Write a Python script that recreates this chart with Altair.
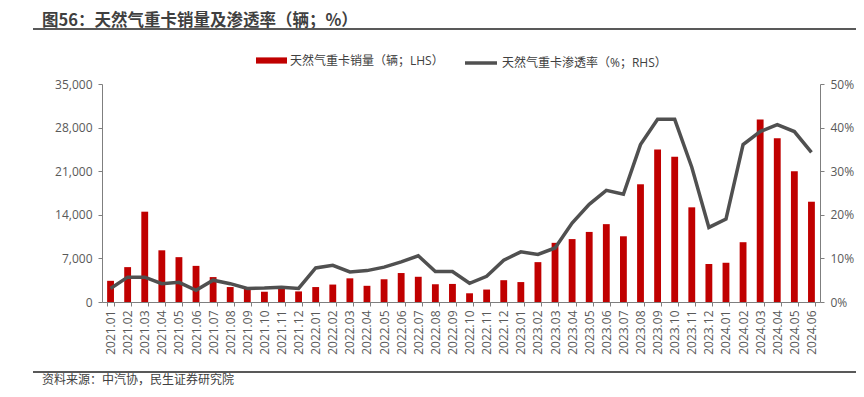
import altair as alt
import pandas as pd

months = [
    "2021.01", "2021.02", "2021.03", "2021.04", "2021.05", "2021.06", "2021.07", "2021.08", "2021.09", "2021.10", "2021.11", "2021.12",
    "2022.01", "2022.02", "2022.03", "2022.04", "2022.05", "2022.06", "2022.07", "2022.08", "2022.09", "2022.10", "2022.11", "2022.12",
    "2023.01", "2023.02", "2023.03", "2023.04", "2023.05", "2023.06", "2023.07", "2023.08", "2023.09", "2023.10", "2023.11", "2023.12",
    "2024.01", "2024.02", "2024.03", "2024.04", "2024.05", "2024.06",
]
sales = [
    3400, 5600, 14500, 8300, 7200, 5800, 4000, 2400, 2100, 1650, 2250, 1700,
    2400, 2800, 3800, 2600, 3650, 4650, 4050, 2850, 2900, 1400, 2000, 3500,
    3200, 6400, 9500, 10100, 11250, 12500, 10550, 18900, 24500, 23300, 15200, 6100,
    6300, 9600, 29300, 26300, 21000, 16100,
]
rate = [
    3.1, 5.7, 5.7, 4.2, 4.5, 2.7, 5.0, 4.2, 3.1, 3.2, 3.4, 3.1,
    7.8, 8.4, 6.9, 7.2, 8.0, 9.2, 10.6, 7.0, 7.0, 4.3, 5.9, 9.6,
    11.5, 10.9, 12.4, 18.1, 22.4, 25.6, 24.7, 36.1, 41.9, 41.9, 30.9, 17.1,
    19.0, 36.1, 39.1, 40.7, 39.1, 34.3,
]

title_text = "图56：天然气重卡销量及渗透率（辆；%）"
bar_label = "天然气重卡销量（辆；LHS）"
line_label = "天然气重卡渗透率（%；RHS）"
source_text = "资料来源：中汽协，民生证券研究院"

df = pd.DataFrame({
    "month": months,
    "sales": sales,
    "rate": [r / 100 for r in rate],
    "s1": bar_label,
    "s2": line_label,
})

FONT = "Open Sans, Noto Sans CJK SC"
AX_COLOR = "#7f7f7f"
LAB_COLOR = "#595959"

x_enc = alt.X(
    "month:N",
    sort=months,
    title=None,
    scale=alt.Scale(paddingInner=0.6, paddingOuter=0.3),
    axis=alt.Axis(
        labelAngle=270, labelFont=FONT, labelFontSize=12, labelColor=LAB_COLOR,
        domainColor=AX_COLOR, tickColor=AX_COLOR, tickSize=4, tickBand="extent",
        labelPadding=4, labelOverlap=False,
    ),
)

bars = alt.Chart(df).mark_bar(color="#C00000").encode(
    x=x_enc,
    y=alt.Y(
        "sales:Q", title=None,
        scale=alt.Scale(domain=[0, 35000], nice=False),
        axis=alt.Axis(
            orient="left", values=[0, 7000, 14000, 21000, 28000, 35000], format=",.0f",
            grid=False, labelFont=FONT, labelFontSize=12, labelColor=LAB_COLOR,
            domainColor=AX_COLOR, tickColor=AX_COLOR, tickSize=4, labelPadding=6,
        ),
    ),
    color=alt.Color(
        "s1:N",
        scale=alt.Scale(domain=[bar_label], range=["#C00000"]),
        legend=alt.Legend(
            title=None, orient="none", legendX=154, legendY=-39,
            symbolType="M-1,-0.2H1V0.2H-1Z", symbolSize=961, symbolStrokeWidth=0,
            labelFont=FONT, labelFontSize=12, labelColor="#404040", labelOffset=3,
            labelLimit=400,
        ),
    ),
)

line = alt.Chart(df).mark_line(strokeWidth=3.5, color="#505050").encode(
    x=alt.X("month:N", sort=months),
    y=alt.Y(
        "rate:Q", title=None,
        scale=alt.Scale(domain=[0, 0.5], nice=False),
        axis=alt.Axis(
            orient="right", values=[0, 0.1, 0.2, 0.3, 0.4, 0.5], format=".0%",
            grid=False, labelFont=FONT, labelFontSize=12, labelColor=LAB_COLOR,
            domainColor=AX_COLOR, tickColor=AX_COLOR, tickSize=4, labelPadding=6,
        ),
    ),
    stroke=alt.Stroke(
        "s2:N",
        scale=alt.Scale(domain=[line_label], range=["#505050"]),
        legend=alt.Legend(
            title=None, orient="none", legendX=361, legendY=-39,
            symbolType="stroke", symbolSize=1024, symbolStrokeWidth=3.5,
            labelFont=FONT, labelFontSize=12, labelColor="#404040", labelOffset=3,
            labelLimit=400,
        ),
    ),
)

one = pd.DataFrame({"t": [title_text]})
title = alt.Chart(one).mark_text(
    align="left", baseline="middle", font="Noto Sans CJK SC", fontSize=16.5,
    fontWeight="bold", color="#3f3f3f",
).encode(text="t:N", x=alt.value(-60), y=alt.value(-63))

top_rule = alt.Chart(one).mark_rule(color="#595959", strokeWidth=2).encode(
    x=alt.value(-69), x2=alt.value(770), y=alt.value(-55)
)
bottom_rule = alt.Chart(one).mark_rule(color="#595959", strokeWidth=2).encode(
    x=alt.value(-69), x2=alt.value(770), y=alt.value(288)
)
src = pd.DataFrame({"t": [source_text]})
source = alt.Chart(src).mark_text(
    align="left", baseline="middle", font="Noto Sans CJK SC", fontSize=12, color="#404040",
).encode(text="t:N", x=alt.value(-60), y=alt.value(296))

chart = alt.layer(bars, line, title, top_rule, bottom_rule, source).resolve_scale(
    y="independent", color="independent", stroke="independent"
).properties(
    width=718, height=218,
    autosize=alt.AutoSizeParams(type="none"),
    padding={"left": 94, "top": 76, "right": 36, "bottom": 87},
).configure_view(stroke=None)

chart.save("out.html", embed_options={"renderer": "svg", "actions": False})
